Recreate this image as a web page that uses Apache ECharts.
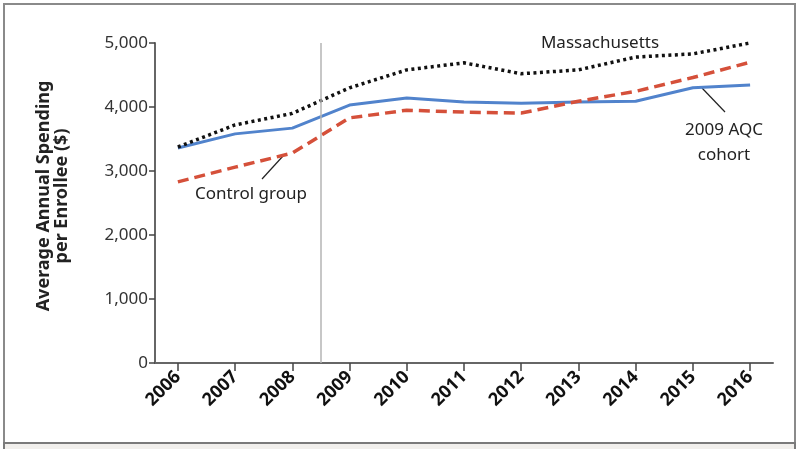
<!DOCTYPE html>
<html>
<head>
<meta charset="utf-8">
<script src="https://cdn.jsdelivr.net/npm/echarts@6/dist/echarts.min.js"></script>
<style>
  html, body { margin: 0; padding: 0; background: #fff; }
  #main { width: 800px; height: 449px; }
</style>
</head>
<body>
<div id="main"></div>
<script>
// data
var years = [2006, 2007, 2008, 2009, 2010, 2011, 2012, 2013, 2014, 2015, 2016];
var massachusetts = [3375, 3720, 3900, 4300, 4580, 4690, 4520, 4580, 4780, 4830, 5000];
var aqcCohort = [3360, 3580, 3670, 4030, 4140, 4080, 4060, 4080, 4090, 4300, 4345];
var controlGroup = [2830, 3060, 3280, 3830, 3950, 3920, 3905, 4090, 4245, 4460, 4700];
var yTicks = [0, 1000, 2000, 3000, 4000, 5000];
var contractStart = 2008.5;

var myChart = echarts.init(document.getElementById('main'));
var font = 'Noto Sans';
var noteFont = '17px "Noto Sans"';

function pairs(vals) {
	return years.map(function(y, i){ return [y, vals[i]]; });
}

var option = {
	animation: false,
	textStyle: { fontFamily: font },
	grid: { left: 155, right: 27, top: 43, bottom: 86 },
	xAxis: {
		type: 'value',
		min: 2005.6,
		max: 2016.4,
		splitLine: { show: false },
		axisLine: { lineStyle: { color: '#666', width: 2 } },
		axisTick: {
			customValues: years,
			length: 8,
			lineStyle: { color: '#444', width: 1.5 }
		},
		axisLabel: {
			customValues: years,
			rotate: 45,
			color: '#111',
			fontWeight: 'bold',
			fontSize: 18,
			margin: 11,
			formatter: function(v){ return String(v); }
		}
	},
	yAxis: {
		type: 'value',
		min: 0,
		max: 5000,
		interval: 1000,
		name: 'Average Annual Spending\nper Enrollee ($)',
		nameLocation: 'middle',
		nameRotate: 90,
		nameGap: 84,
		nameTextStyle: { color: '#222', fontWeight: 'bold', fontSize: 18, lineHeight: 18, padding: [0, 0, 0, 14] },
		splitLine: { show: false },
		axisLine: { show: true, lineStyle: { color: '#666', width: 2 } },
		axisTick: { show: true, length: 6, lineStyle: { color: '#444', width: 1.5 } },
		axisLabel: {
			color: '#333',
			fontSize: 17,
			margin: 7,
			formatter: function(v){ return yTicks.indexOf(v) >= 0 ? v.toLocaleString('en-US') : ''; }
		}
	},
	series: [
		{
			name: 'Massachusetts',
			type: 'line',
			data: pairs(massachusetts),
			symbol: 'none',
			z: 3,
			lineStyle: { color: '#111', width: 3.5, type: [3, 3.5] },
			markLine: {
				silent: true,
				symbol: 'none',
				label: { show: false },
				lineStyle: { color: '#b5b5b5', width: 1.5, type: 'solid' },
				data: [{ xAxis: contractStart }]
			}
		},
		{
			name: 'Control group',
			type: 'line',
			data: pairs(controlGroup),
			symbol: 'none',
			z: 4,
			lineStyle: { color: '#d5503a', width: 3.5, type: [11, 6] }
		},
		{
			name: '2009 AQC cohort',
			type: 'line',
			data: pairs(aqcCohort),
			symbol: 'none',
			z: 2,
			lineStyle: { color: '#5183cc', width: 3 }
		}
	],
	graphic: [
		// frame
		{ type: 'rect', shape: { x: 4, y: 4, width: 791, height: 439 }, style: { fill: 'none', stroke: '#8a8a8a', lineWidth: 2 }, silent: true },
		{ type: 'rect', shape: { x: 4, y: 443, width: 791, height: 8 }, style: { fill: '#f1efec', stroke: '#7a7a7a', lineWidth: 2 }, silent: true },
		// annotations
		{ type: 'text', x: 600, y: 43, style: { text: 'Massachusetts', fill: '#222', font: noteFont, textAlign: 'center', textVerticalAlign: 'middle' } },
		{ type: 'text', x: 251, y: 194, style: { text: 'Control group', fill: '#222', font: noteFont, textAlign: 'center', textVerticalAlign: 'middle' } },
		{ type: 'line', shape: { x1: 262, y1: 179, x2: 283, y2: 156 }, style: { stroke: '#222', lineWidth: 1.2 } },
		{ type: 'text', x: 724, y: 130, style: { text: '2009 AQC', fill: '#222', font: noteFont, textAlign: 'center', textVerticalAlign: 'middle' } },
		{ type: 'text', x: 724, y: 155, style: { text: 'cohort', fill: '#222', font: noteFont, textAlign: 'center', textVerticalAlign: 'middle' } },
		{ type: 'line', shape: { x1: 702, y1: 88, x2: 725, y2: 112 }, style: { stroke: '#222', lineWidth: 1.2 } }
	]
};

myChart.setOption(option);
window.onresize = myChart.resize;
</script>
</body>
</html>
